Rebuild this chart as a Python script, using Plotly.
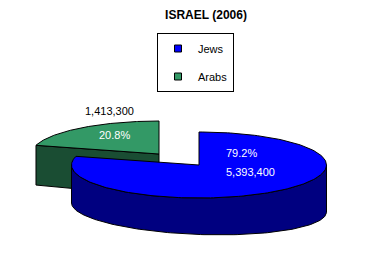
import numpy as np
import plotly.graph_objects as go

# ---- data ----
categories = ["Jews", "Arabs"]
populations = [5393400, 1413300]
title_text = "ISRAEL (2006)"

# ---- styles / geometry (pixel units of the 365x262 canvas) ----
top_colors = ["#0000ff", "#339966"]
side_colors = ["#000080", "#1a4d33"]
explode = [(0, 0), (-40, -11)]
CX, CY, RX, RY = 199.0, 165.0, 127.5, 33.0
CYB, RYB, TILT = 207.5, 27.0, 4.5
label_pos = {"Jews": (224, 153, 224, 172), "Arabs": (114.5, 135, 109, 111)}
FONT = "Liberation Sans, Arial, sans-serif"

total = sum(populations)
fracs = [v / total for v in populations]
bounds = np.concatenate([[0], np.cumsum(fracs)]) * 360.0


def top_pt(th, off):
    t = np.radians(th)
    return CX + off[0] + RX * np.sin(t), CY + off[1] - RY * np.cos(t)


def bot_pt(th, off):
    t = np.radians(th)
    return CX + off[0] + RX * np.sin(t), CYB + off[1] - RYB * np.cos(t) + TILT * np.sin(t)


fig = go.Figure()


def poly(xs, ys, color):
    fig.add_trace(go.Scatter(x=list(xs) + [xs[0]], y=list(ys) + [ys[0]], mode="lines",
                             fill="toself", fillcolor=color,
                             line=dict(color="black", width=1),
                             hoverinfo="skip", showlegend=False))


order = sorted(range(len(categories)), key=lambda i: explode[i][1])  # back first
for i in order:
    a0, a1 = bounds[i], bounds[i + 1]
    off = explode[i]
    ctop = (CX + off[0], CY + off[1])
    cbot = (CX + off[0], CYB + off[1])
    # radial faces
    for th, sign in ((a0, 1), (a1, -1)):
        s = np.sin(np.radians(th))
        if sign * s < -1e-6:
            tx, ty = top_pt(th, off)
            bx, by = bot_pt(th, off)
            poly([ctop[0], tx, bx, cbot[0]], [ctop[1], ty, by, cbot[1]], side_colors[i])
    # curved front side
    s0, s1 = max(a0, 90.0), min(a1, 270.0)
    if s1 > s0:
        th = np.linspace(s0, s1, 120)
        tx, ty = top_pt(th, off)
        bx, by = bot_pt(th[::-1], off)
        poly(np.concatenate([tx, bx]), np.concatenate([ty, by]), side_colors[i])
    # top face
    th = np.linspace(a0, a1, 200)
    tx, ty = top_pt(th, off)
    poly(np.concatenate([[ctop[0]], tx]), np.concatenate([[ctop[1]], ty]), top_colors[i])

# labels
for i, cat in enumerate(categories):
    px, py, vx, vy = label_pos[cat]
    pct_col = "white"
    val_col = "white" if cat == "Jews" else "black"
    anchor = "left" if cat == "Jews" else "center"
    fig.add_annotation(x=px, y=py, xref="x", yref="y", text=f"{fracs[i]*100:.1f}%",
                       showarrow=False, xanchor=anchor, yanchor="middle",
                       font=dict(family=FONT, size=11, color=pct_col))
    fig.add_annotation(x=vx, y=vy, xref="x", yref="y", text=f"{populations[i]:,}",
                       showarrow=False, xanchor=anchor, yanchor="middle",
                       font=dict(family=FONT, size=11, color=val_col))

# legend entries
for i, cat in enumerate(categories):
    fig.add_trace(go.Scatter(x=[None], y=[None], mode="markers", name=cat,
                             legendgroup=cat,
                             marker=dict(symbol="square", size=7, color=top_colors[i],
                                         line=dict(color="black", width=1))))

fig.update_layout(
    width=365, height=262, margin=dict(l=0, r=0, t=0, b=0),
    paper_bgcolor="white", plot_bgcolor="white",
    xaxis=dict(range=[0, 365], visible=False, fixedrange=True),
    yaxis=dict(range=[262, 0], visible=False, fixedrange=True),
    title=dict(text=f"<b>{title_text}</b>", x=206 / 365, y=1 - 14.5 / 262,
               xanchor="center", yanchor="middle", xref="paper", yref="container",
               font=dict(family=FONT, size=12, color="black")),
    legend=dict(x=157 / 365, y=1 - 33 / 262, xanchor="left", yanchor="top",
                bordercolor="black", borderwidth=1, bgcolor="white",
                font=dict(family=FONT, size=11, color="black"),
                tracegroupgap=9),
    showlegend=True,
)

fig.write_html("out.html")
